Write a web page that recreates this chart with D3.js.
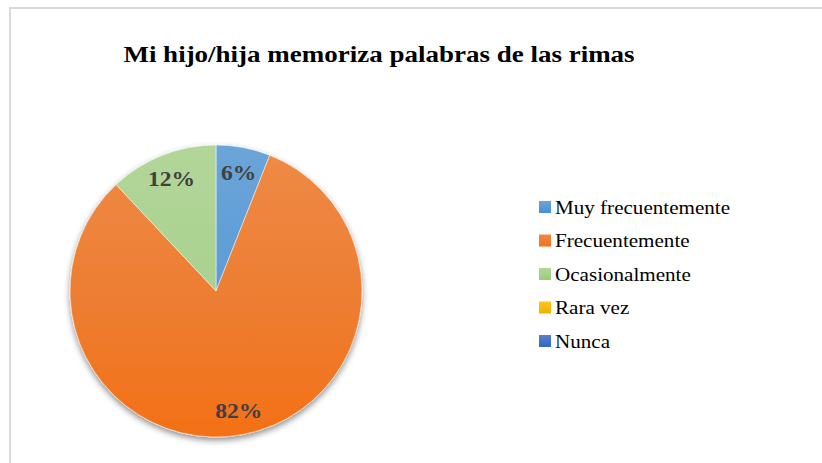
<!DOCTYPE html>
<html>
<head>
<meta charset="utf-8">
<script src="https://cdn.jsdelivr.net/npm/d3@7"></script>
<style>
  body { margin: 0; background: #fff; }
  svg { display: block; }
</style>
</head>
<body>
<div class="chart"></div>
<script>
let w = 822;
let h = 463;

let categories = ["Muy frecuentemente", "Frecuentemente", "Ocasionalmente", "Rara vez", "Nunca"];
let values = [6, 82, 12, 0, 0];
let colors = ["#5b9bd5", "#ed7d31", "#a9d18e", "#ffc000", "#4472c4"];
let title = "Mi hijo/hija memoriza palabras de las rimas";

let serif = "'Liberation Serif', 'Times New Roman', serif";
let svg = d3.select(".chart").append("svg").attr("width", w).attr("height", h);

// chart area border
svg.append("rect")
  .attr("x", 10).attr("y", 8)
  .attr("width", w).attr("height", h)
  .attr("fill", "#fff")
  .attr("stroke", "#d9d9d9")
  .attr("stroke-width", 2);

svg.append("text")
  .attr("transform", "translate(379,62) scale(1.125,1)")
  .attr("text-anchor", "middle")
  .style("font-family", serif)
  .style("font-weight", "bold")
  .style("font-size", "24px")
  .attr("fill", "#000")
  .text(title);

let defs = svg.append("defs");
function topColor(c) { return d3.interpolateRgb(c, "#fff")(0.1); }
function bottomColor(c) {
  let k = d3.hsl(c);
  k.l = k.l * 0.93;
  k.s = Math.min(1, k.s * 1.08);
  return k.formatHex();
}

colors.forEach(function (c, i) {
  let g = defs.append("linearGradient")
    .attr("id", "grad" + i)
    .attr("gradientUnits", "userSpaceOnUse")
    .attr("x1", 0).attr("y1", -146).attr("x2", 0).attr("y2", 146);
  g.append("stop").attr("offset", "0%").attr("stop-color", topColor(c));
  g.append("stop").attr("offset", "55%").attr("stop-color", c);
  g.append("stop").attr("offset", "100%").attr("stop-color", bottomColor(c));

  let lg = defs.append("linearGradient").attr("id", "lg" + i)
    .attr("x1", 0).attr("y1", 0).attr("x2", 0).attr("y2", 1);
  lg.append("stop").attr("offset", "0%").attr("stop-color", topColor(c));
  lg.append("stop").attr("offset", "100%").attr("stop-color", bottomColor(c));
});
let shadow = defs.append("filter").attr("id", "shadow")
  .attr("x", "-20%").attr("y", "-20%").attr("width", "140%").attr("height", "140%");
shadow.append("feDropShadow")
  .attr("dx", 0).attr("dy", 3).attr("stdDeviation", 3)
  .attr("flood-color", "#000").attr("flood-opacity", 0.45);

let cx = 216, cy = 291, r = 146;
let pie = d3.pie().sort(null).value(d => d.value);
let arcs = pie(categories.map((c, i) => ({ name: c, value: values[i], idx: i })));
let arc = d3.arc().innerRadius(0).outerRadius(r);
let labelArc = d3.arc().innerRadius(121).outerRadius(121);

let g = svg.append("g").attr("transform", "translate(" + cx + "," + cy + ")");
g.append("g").attr("filter", "url(#shadow)")
  .selectAll("path")
  .data(arcs.filter(d => d.value > 0))
  .enter()
  .append("path")
  .attr("d", arc)
  .attr("fill", d => "url(#grad" + d.data.idx + ")")
  .attr("stroke", "#fff")
  .attr("stroke-width", 0.5);

g.selectAll("text.lbl")
  .data(arcs.filter(d => d.value > 0))
  .enter()
  .append("text")
  .attr("class", "lbl")
  .attr("transform", d => "translate(" + labelArc.centroid(d) + ") scale(1.07,1)")
  .attr("text-anchor", "middle")
  .attr("dy", "0.35em")
  .style("font-family", serif)
  .style("font-weight", "bold")
  .style("font-size", "22px")
  .attr("fill", "#404040")
  .text(d => d.value + "%");

let legend = svg.append("g").attr("transform", "translate(539,207)");
let rows = legend.selectAll("g")
  .data(categories)
  .enter()
  .append("g")
  .attr("transform", (d, i) => "translate(0," + i * 33.5 + ")");
rows.append("rect")
  .attr("x", 0).attr("y", -6)
  .attr("width", 12).attr("height", 12)
  .attr("fill", (d, i) => "url(#lg" + i + ")");
rows.append("text")
  .attr("transform", "translate(16,0) scale(1.11,1)")
  .attr("dy", "0.35em")
  .style("font-family", serif)
  .style("font-size", "19px")
  .attr("fill", "#000")
  .text(d => d);
</script>
</body>
</html>
